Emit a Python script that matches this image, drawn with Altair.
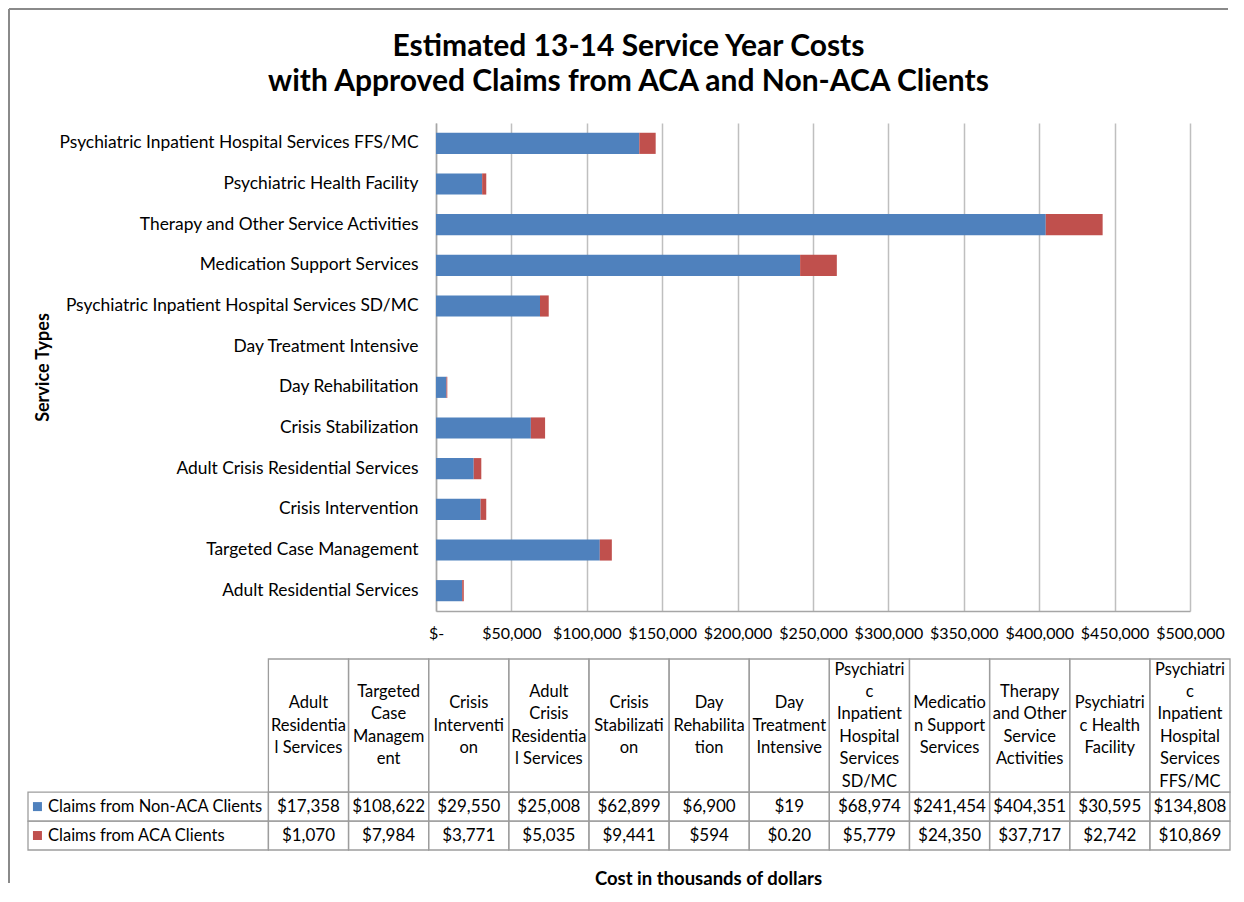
import altair as alt
import pandas as pd

# ---------------- data ----------------
services = [
    "Adult Residential Services",
    "Targeted Case Management",
    "Crisis Intervention",
    "Adult Crisis Residential Services",
    "Crisis Stabilization",
    "Day Rehabilitation",
    "Day Treatment Intensive",
    "Psychiatric Inpatient Hospital Services SD/MC",
    "Medication Support Services",
    "Therapy and Other Service Activities",
    "Psychiatric Health Facility",
    "Psychiatric Inpatient Hospital Services FFS/MC",
]
header_labels = [
    "Adult\nResidentia\nl Services",
    "Targeted\nCase\nManagem\nent",
    "Crisis\nInterventi\non",
    "Adult\nCrisis\nResidentia\nl Services",
    "Crisis\nStabilizati\non",
    "Day\nRehabilita\ntion",
    "Day\nTreatment\nIntensive",
    "Psychiatri\nc\nInpatient\nHospital\nServices\nSD/MC",
    "Medicatio\nn Support\nServices",
    "Therapy\nand Other\nService\nActivities",
    "Psychiatri\nc Health\nFacility",
    "Psychiatri\nc\nInpatient\nHospital\nServices\nFFS/MC",
]
non_aca = [17358, 108622, 29550, 25008, 62899, 6900, 19, 68974, 241454, 404351, 30595, 134808]
aca = [1070, 7984, 3771, 5035, 9441, 594, 0.20, 5779, 24350, 37717, 2742, 10869]
series = ["Claims from Non-ACA Clients", "Claims from ACA Clients"]
x_ticks = [0, 50000, 100000, 150000, 200000, 250000, 300000, 350000, 400000, 450000, 500000]
title_lines = ["Estimated 13-14 Service Year Costs",
               "with Approved Claims from ACA and Non-ACA Clients"]
y_title = "Service Types"
x_title = "Cost in thousands of dollars"

# ---------------- style / layout ----------------
BLUE, RED = "#4F81BD", "#C0504D"
FONT = "Lato"
TXT = "#000000"
GRID = "#bfbfbf"
AXISC = "#a6a6a6"
TABLE_LINE = "#9d9d9d"
FRAME = "#8a8a8a"
W, H = 754, 488
TAB_X_RANGE = [-408, 794]        # table placement relative to plot area
TAB_Y_RANGE = [536, 727]
TAB_X_DOMAIN = [0, 15]           # 3 units of row header + 12 columns
ROW_EDGES = [0, 4.6, 5.6, 6.6]   # header row, two data rows (table units)
HEAD_LINE_PX = 22.4
UNIT_PX = (TAB_Y_RANGE[1] - TAB_Y_RANGE[0]) / (ROW_EDGES[-1] - ROW_EDGES[0])
LABEL_X = 0.25
SWATCH_X = 0.118


def money(v):
    return f"${v:,.2f}" if v != int(v) else f"${int(v):,}"


# ---------------- frames ----------------
bar_rows = []
for i, s in enumerate(services):
    bar_rows.append({"service": s, "series": series[0], "value": non_aca[i], "k": 0})
    bar_rows.append({"service": s, "series": series[1], "value": aca[i], "k": 1})
bar_df = pd.DataFrame(bar_rows)

cells, heads, texts, rowlab = [], [], [], []
head_mid = (ROW_EDGES[0] + ROW_EDGES[1]) / 2
for j in range(len(services)):
    cells.append({"x0": 3 + j, "x1": 4 + j, "y0": ROW_EDGES[0], "y1": ROW_EDGES[1]})
    n_lines = header_labels[j].count("\n") + 1
    y_first = head_mid - (n_lines - 1) / 2 * HEAD_LINE_PX / UNIT_PX
    heads.append({"xc": 3.5 + j, "yc": y_first, "label": header_labels[j]})
for r, vals in enumerate([non_aca, aca]):
    y0, y1 = ROW_EDGES[r + 1], ROW_EDGES[r + 2]
    cells.append({"x0": 0, "x1": 3, "y0": y0, "y1": y1})
    rowlab.append({"xl": LABEL_X, "xs": SWATCH_X, "yc": (y0 + y1) / 2, "series": series[r]})
    for j, v in enumerate(vals):
        cells.append({"x0": 3 + j, "x1": 4 + j, "y0": y0, "y1": y1})
        texts.append({"xc": 3.5 + j, "yc": (y0 + y1) / 2, "label": money(v)})
cells_df = pd.DataFrame(cells)
heads_df = pd.DataFrame(heads)
texts_df = pd.DataFrame(texts)
rowlab_df = pd.DataFrame(rowlab)

color_scale = alt.Scale(domain=series, range=[BLUE, RED])


def tx(field):
    return alt.X(field, type="quantitative",
                 scale=alt.Scale(domain=TAB_X_DOMAIN, range=TAB_X_RANGE, nice=False, zero=False),
                 axis=None)


def ty(field):
    return alt.Y(field, type="quantitative",
                 scale=alt.Scale(domain=[ROW_EDGES[0], ROW_EDGES[-1]], range=TAB_Y_RANGE,
                                 nice=False, zero=False),
                 axis=None)


# ---------------- bar chart ----------------
bars = alt.Chart(bar_df).mark_bar().encode(
    x=alt.X("value:Q", stack="zero",
            scale=alt.Scale(domain=[0, 500000], nice=False),
            axis=alt.Axis(values=x_ticks,
                          labelExpr="datum.value == 0 ? '$-' : '$' + format(datum.value, ',')",
                          grid=True, gridColor=GRID, gridWidth=1.5,
                          domain=True, domainColor=AXISC, domainWidth=1.5,
                          ticks=False, labelPadding=14, labelFlush=False, labelOverlap=False,
                          labelFont=FONT, labelFontSize=16, labelColor=TXT,
                          title=x_title, titleFont=FONT, titleFontSize=18.5,
                          titleFontWeight="bold", titleColor=TXT,
                          titleX=272, titleY=267, titleBaseline="middle")),
    y=alt.Y("service:N", sort=services[::-1],
            scale=alt.Scale(paddingInner=0.48, paddingOuter=0.24),
            axis=alt.Axis(title=y_title, titleFont=FONT, titleFontSize=18,
                          titleFontWeight="bold", titleColor=TXT, titleX=-384,
                          labelFont=FONT, labelFontSize=17.4, labelColor=TXT,
                          labelPadding=18, labelLimit=600, ticks=False,
                          domain=True, domainColor=AXISC, domainWidth=1.5, grid=False)),
    color=alt.Color("series:N", scale=color_scale, legend=None),
    order=alt.Order("k:Q"),
)

one = pd.DataFrame({"a": [0]})
frame_left = alt.Chart(one).mark_rule(color=FRAME, strokeWidth=2).encode(
    x=alt.value(-427), x2=alt.value(-427), y=alt.value(-114), y2=alt.value(760))
frame_top = alt.Chart(one).mark_rule(color=FRAME, strokeWidth=2).encode(
    x=alt.value(-427), x2=alt.value(792), y=alt.value(-114), y2=alt.value(-114))

table_cells = alt.Chart(cells_df).mark_rect(fill="white", fillOpacity=0,
                                             stroke=TABLE_LINE, strokeWidth=1.3).encode(
    x=tx("x0"), x2="x1", y=ty("y0"), y2="y1")

head_text = alt.Chart(heads_df).mark_text(font=FONT, fontSize=16.5, color=TXT, lineBreak="\n",
                                          lineHeight=HEAD_LINE_PX, align="center",
                                          baseline="middle").encode(
    x=tx("xc"), y=ty("yc"), text="label:N")

table_text = alt.Chart(texts_df).mark_text(font=FONT, fontSize=17, color=TXT,
                                           align="center", baseline="middle").encode(
    x=tx("xc"), y=ty("yc"), text="label:N")

row_text = alt.Chart(rowlab_df).mark_text(font=FONT, fontSize=16.5, color=TXT,
                                          align="left", baseline="middle").encode(
    x=tx("xl"), y=ty("yc"), text="series:N")

swatches = alt.Chart(rowlab_df).mark_square(size=81, opacity=1).encode(
    x=tx("xs"), y=ty("yc"),
    color=alt.Color("series:N", scale=color_scale, legend=None))

chart = alt.layer(
    frame_left, frame_top, bars, table_cells, head_text, table_text, row_text, swatches
).resolve_scale(
    x="independent", y="independent", color="independent"
).properties(
    width=W, height=H, padding=0,
    title=alt.TitleParams(text=title_lines, font=FONT, fontSize=30, fontWeight="bold",
                          color=TXT, anchor="middle", offset=-119, lineHeight=35,
                          dx=-184.5, baseline="bottom"),
).configure_view(stroke=None)

chart.save("out.html", embed_options={"renderer": "svg", "actions": False})
